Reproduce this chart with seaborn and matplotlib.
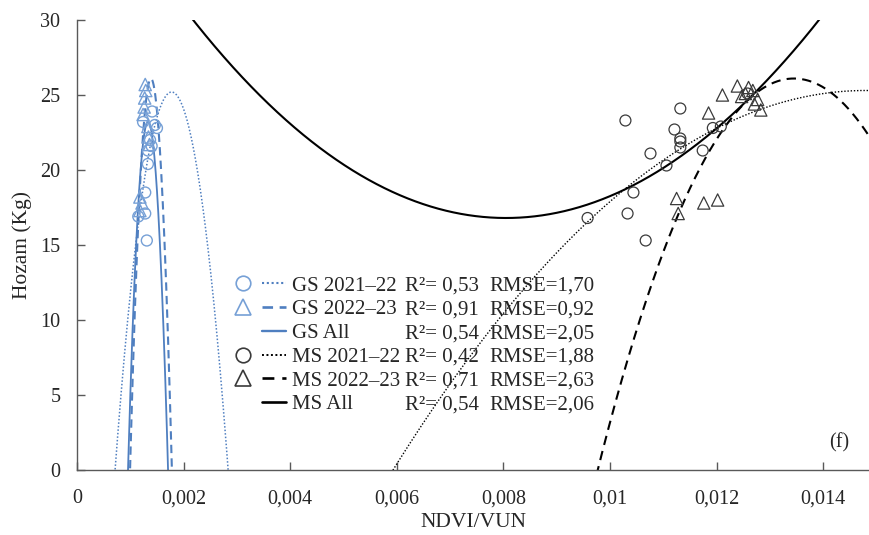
import numpy as np
import pandas as pd
import matplotlib
matplotlib.use("Agg")
import matplotlib.pyplot as plt
import seaborn as sns
from matplotlib.lines import Line2D
from matplotlib.legend_handler import HandlerTuple
from matplotlib.ticker import FuncFormatter

# ── Data ───────────────────────────────────────────────────
gs21_x = [0.00141, 0.00124, 0.00146, 0.00150, 0.00137, 0.00133, 0.00140,
          0.00133, 0.00128, 0.00128, 0.00115, 0.00131]
gs21_y = [23.9, 23.2, 23.0, 22.8, 22.0, 21.3, 21.6, 20.4, 18.5, 17.1, 16.9, 15.3]

gs22_x = [0.00128, 0.00129, 0.00127, 0.00126, 0.00124, 0.00133, 0.00134,
          0.00136, 0.00118, 0.00122, 0.00118]
gs22_y = [25.7, 25.3, 24.8, 24.2, 23.7, 22.9, 22.2, 21.7, 18.2, 17.8, 17.3]

ms21_x = [0.00958, 0.01029, 0.01033, 0.01044, 0.01067, 0.01076, 0.01106, 0.01121,
          0.01132, 0.01132, 0.01132, 0.01132, 0.01174, 0.01193, 0.01208, 0.01258]
ms21_y = [16.8, 23.3, 17.1, 18.5, 15.3, 21.1, 20.3, 22.7,
          24.1, 22.1, 21.9, 21.5, 21.3, 22.8, 22.9, 25.1]

ms22_x = [0.01125, 0.01128, 0.01176, 0.01202, 0.01185, 0.01211, 0.01239,
          0.01247, 0.01260, 0.01254, 0.01268, 0.01271, 0.01283, 0.01277]
ms22_y = [18.1, 17.1, 17.8, 18.0, 23.8, 25.0, 25.6,
          24.9, 25.5, 25.1, 25.3, 24.4, 24.0, 24.7]

# 2nd order polynomial trendlines (a2, a1, a0), estimated from the figure
fit_gs21 = [-2.2386e7, 79470.0, -45.33]
fit_gs22 = [-1.69e8, 469144.0, -299.5]
fit_gsall = [-1.6446e8, 438450.0, -269.0]
fit_ms21 = [-321500.0, 9516.4, -45.12]
fit_ms22 = [-1927000.0, 51836.3, -322.5]
fit_msall = [383000.0, -6166.3, 41.62]

series_names = ['GS 2021–22', 'GS 2022–23', 'GS All', 'MS 2021–22', 'MS 2022–23', 'MS All']
r2_vals = [0.53, 0.91, 0.54, 0.42, 0.71, 0.54]
rmse_vals = [1.70, 0.92, 2.05, 1.88, 2.63, 2.06]

# ── Style ──────────────────────────────────────────────────
sns.set_style('ticks')
plt.rcParams['font.family'] = ['Liberation Serif', 'DejaVu Serif']
plt.rcParams['font.size'] = 14.5

BLUE = '#4f7fc0'
BLUE_M = '#76a0d6'
BLACK = '#000000'
GREY_M = '#3a3a3a'
SPINE = '#595959'

fig = plt.figure(figsize=(8.69, 5.35), dpi=100)
ax = fig.add_axes([77 / 869, 65 / 535, 792 / 869, 450 / 535])

XMAX = 0.01486
xs = np.linspace(0, XMAX, 3000)

# ── Scatter ────────────────────────────────────────────────
sns.scatterplot(x=gs21_x, y=gs21_y, marker='o', s=62, facecolor='none',
                edgecolor=BLUE_M, linewidth=1.0, ax=ax, zorder=3)
sns.scatterplot(x=gs22_x, y=gs22_y, marker='^', s=78, facecolor='none',
                edgecolor=BLUE_M, linewidth=1.0, ax=ax, zorder=3)
sns.scatterplot(x=ms21_x, y=ms21_y, marker='o', s=62, facecolor='none',
                edgecolor=GREY_M, linewidth=0.9, ax=ax, zorder=3)
sns.scatterplot(x=ms22_x, y=ms22_y, marker='^', s=78, facecolor='none',
                edgecolor=GREY_M, linewidth=0.9, ax=ax, zorder=3)

# ── Trendlines ─────────────────────────────────────────────
curves = [
    (fit_gs21, BLUE, (0, (1, 1.3)), 1.1),
    (fit_gs22, BLUE, (0, (4, 2.5)), 1.5),
    (fit_gsall, BLUE, '-', 1.3),
    (fit_ms21, BLACK, (0, (1, 1.3)), 1.0),
    (fit_ms22, BLACK, (0, (4.5, 3)), 1.5),
    (fit_msall, BLACK, '-', 1.5),
]
for coef, col, ls, lw in curves:
    sns.lineplot(x=xs, y=np.polyval(coef, xs), color=col, linestyle=ls,
                 linewidth=lw, ax=ax, zorder=2)

ax.set_xlim(0, XMAX)
ax.set_ylim(0, 30)
ax.set_xticks(np.arange(0, 0.0141, 0.002))
ax.set_yticks(range(0, 31, 5))
ax.xaxis.set_major_formatter(FuncFormatter(lambda v, p: ('%g' % round(v, 4)).replace('.', ',')))
ax.set_xlabel('NDVI/VUN', fontsize=15.5, labelpad=3)
ax.set_ylabel('Hozam (Kg)', fontsize=15.5, labelpad=6)
ax.tick_params(axis='both', direction='in', length=6, width=1, color=SPINE, labelsize=14.5)
ax.tick_params(axis='x', pad=14)
ax.tick_params(axis='y', pad=12)
sns.despine(ax=ax)
for sp in ['left', 'bottom']:
    ax.spines[sp].set_color(SPINE)
    ax.spines[sp].set_linewidth(1.0)

ax.text(0.962, 0.06, '(f)', transform=ax.transAxes, ha='center', va='center', fontsize=14.5)

# ── Legend ─────────────────────────────────────────────────
mk = [Line2D([], [], marker='o', ls='none', ms=10.5, mfc='none', mec=BLUE_M, mew=1.2),
      Line2D([], [], marker='^', ls='none', ms=11.5, mfc='none', mec=BLUE_M, mew=1.2),
      Line2D([], [], ls='none', marker='none'),
      Line2D([], [], marker='o', ls='none', ms=10.5, mfc='none', mec=GREY_M, mew=1.2),
      Line2D([], [], marker='^', ls='none', ms=11.5, mfc='none', mec=GREY_M, mew=1.2),
      Line2D([], [], ls='none', marker='none')]
ln = [Line2D([], [], color=c[1], ls=c[2], lw=c[3] + 0.4) for c in curves]
handles = [(m, l) for m, l in zip(mk, ln)]
leg = ax.legend(handles, series_names, handler_map={tuple: HandlerTuple(ndivide=None, pad=0.34)},
                loc='upper left', bbox_to_anchor=((231 - 77) / 792, (470 - 276) / 450),
                frameon=False, fontsize=15, handlelength=2.64, handletextpad=0.3,
                labelspacing=0.2, borderpad=0, borderaxespad=0)

fig.canvas.draw()
inv = ax.transAxes.inverted()
for t, r2, rm in zip(leg.get_texts(), r2_vals, rmse_vals):
    bb = t.get_window_extent()
    yc = inv.transform((0, (bb.y0 + bb.y1) / 2))[1]
    ax.text((405 - 77) / 792, yc, 'R²= ' + ('%.2f' % r2).replace('.', ','),
            transform=ax.transAxes, va='center', ha='left', fontsize=15)
    ax.text((489 - 77) / 792, yc, 'RMSE=' + ('%.2f' % rm).replace('.', ','),
            transform=ax.transAxes, va='center', ha='left', fontsize=15)

fig.savefig('out.png', dpi=100)
